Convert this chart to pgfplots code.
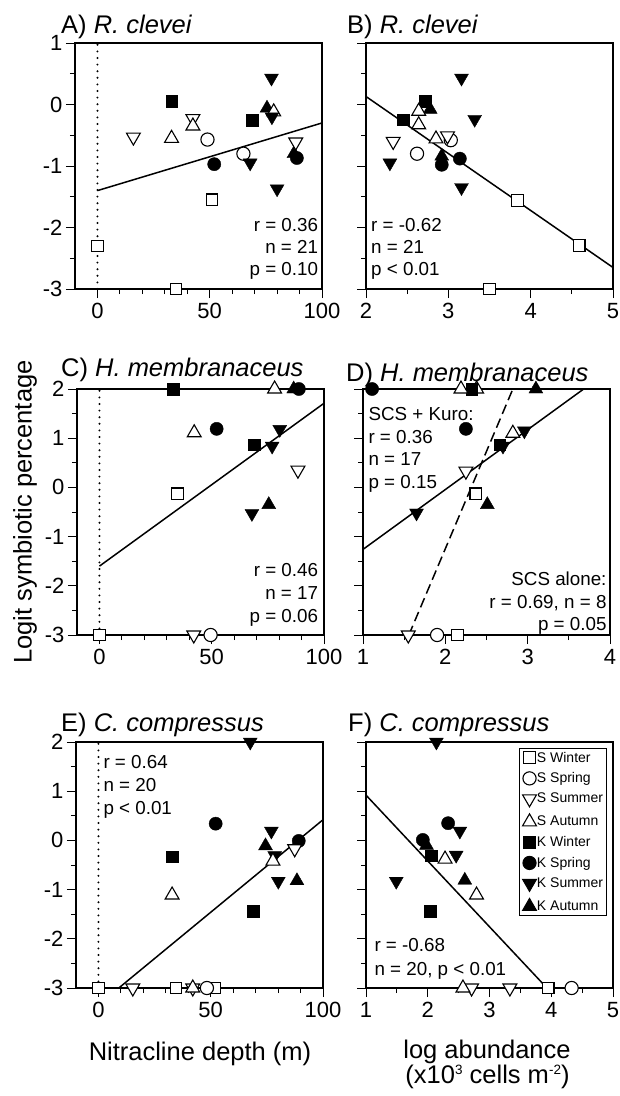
\documentclass[border=0pt]{standalone}
\usepackage{pgfplots}
\pgfplotsset{compat=1.18}
\usepackage{fontspec}
\setmainfont{Liberation Sans}
\pgfplotsset{
  panel/.style={
    scale only axis, width=247pt, height=246pt, anchor=north west,
    clip=false,
    axis line style={line width=1.1pt},
    every tick/.style={black, line width=1pt},
    tick align=outside, tick pos=left,
    major tick length=9pt, minor tick length=5pt,
    tick label style={font=\fontsize{22}{22}\selectfont},
    xticklabel style={yshift=-2pt},
    /pgf/number format/assume math mode=true,
    legend image code/.code={\draw[##1] plot coordinates {(0pt,0pt)};},
  },
  nitx/.style={xmin=-10, xmax=100, xtick={0,50,100}, minor xtick={10,20,30,40,60,70,80,90}},
  ya/.style={ymin=-3, ymax=1, ytick={-3,-2,-1,0,1}, minor ytick={-2.5,-1.5,-0.5,0.5}},
  yc/.style={ymin=-3, ymax=2, ytick={-3,-2,-1,0,1,2}, minor ytick={-2.5,-1.5,-0.5,0.5,1.5}},
  sw/.style={only marks, mark=square*, mark size=5.8pt, mark options={fill=white, draw=black, line width=1.1pt}},
  ssp/.style={only marks, mark=*, mark size=6.6pt, mark options={fill=white, draw=black, line width=1.1pt}},
  ssu/.style={only marks, mark=triangle*, mark size=8pt, mark options={rotate=180, fill=white, draw=black, line width=1.1pt}},
  sau/.style={only marks, mark=triangle*, mark size=8pt, mark options={fill=white, draw=black, line width=1.1pt}},
  kw/.style={only marks, mark=square*, mark size=5.8pt, mark options={fill=black, draw=black}},
  ksp/.style={only marks, mark=*, mark size=6.6pt, mark options={fill=black, draw=black}},
  ksu/.style={only marks, mark=triangle*, mark size=8pt, mark options={rotate=180, fill=black, draw=black}},
  kau/.style={only marks, mark=triangle*, mark size=8pt, mark options={fill=black, draw=black}},
  reg/.style={black, line width=1.5pt, forget plot},
  dots/.style={black, line width=2.2pt, dash pattern=on 0pt off 6.6pt, line cap=round, forget plot},
}
\newcommand{\ann}{\fontsize{18.8}{22}\selectfont}
\newcommand{\ttl}{\fontsize{25.5}{26}\selectfont}
\newcommand{\lab}{\fontsize{25.5}{26}\selectfont}
\newcommand{\sups}[1]{\raisebox{8.5pt}{\fontsize{13.5}{13.5}\selectfont #1}}
\begin{document}
\begin{tikzpicture}
\path[use as bounding box] (0pt,0pt) rectangle (620pt,-1096pt);

% ---------------- A ----------------
\begin{axis}[panel, nitx, ya, at={(75pt,-43pt)}]
\addplot[dots] coordinates {(0,-3) (0,1)};
\addplot[reg] coordinates {(0,-1.4) (100,-0.3)};
\addplot[kw] coordinates {(33,0.05) (69,-0.26)};
\addplot[ksp] coordinates {(52,-0.97) (88.8,-0.87)};
\addplot[kau] coordinates {(75.5,-0.06) (87.5,-0.8)};
\addplot[sw] coordinates {(0,-2.3) (35,-3) (51,-1.55)};
\addplot[ssp] coordinates {(49,-0.57) (65,-0.8)};
\addplot[ssu] coordinates {(16,-0.53) (42.5,-0.23) (88.3,-0.61)};
\addplot[sau] coordinates {(33,-0.55) (42.5,-0.35) (78.5,-0.12)};
\addplot[ksu] coordinates {(68,-0.95) (77.5,0.43) (77.7,-0.2) (80,-1.37)};
\end{axis}

% ---------------- B ----------------
\begin{axis}[panel, ya, at={(366pt,-43pt)}, xmin=2, xmax=5, xtick={2,3,4,5}, minor xtick={2.5,3.5,4.5}, yticklabels={}]
\addplot[reg] coordinates {(2,0.13) (5,-2.65)};
\addplot[kw] coordinates {(2.45,-0.25) (2.72,0.05)};
\addplot[ksp] coordinates {(2.92,-0.98) (3.14,-0.88)};
\addplot[kau] coordinates {(2.78,-0.08) (2.92,-0.84)};
\addplot[sw] coordinates {(3.5,-3) (3.84,-1.56) (4.59,-2.29)};
\addplot[ssp] coordinates {(2.62,-0.8) (3.03,-0.58)};
\addplot[ssu] coordinates {(2.33,-0.6) (2.99,-0.51)};
\addplot[sau] coordinates {(2.64,-0.11) (2.64,-0.33) (2.85,-0.56)};
\addplot[ksu] coordinates {(2.29,-0.95) (3.16,0.43) (3.32,-0.24) (3.16,-1.35)};
\end{axis}

% ---------------- C ----------------
\begin{axis}[panel, nitx, yc, at={(77pt,-389pt)}]
\addplot[dots] coordinates {(0,-3) (0,2)};
\addplot[reg] coordinates {(0,-1.6) (100,1.71)};
\addplot[kw] coordinates {(32.8,2) (69,0.87)};
\addplot[ksp] coordinates {(52.2,1.19) (88.8,2)};
\addplot[kau] coordinates {(75.4,-0.35) (86.5,2)};
\addplot[sw] coordinates {(0,-3) (34.8,-0.13)};
\addplot[ssp] coordinates {(49.5,-3)};
\addplot[ssu] coordinates {(42,-3) (88.4,0.35)};
\addplot[sau] coordinates {(42.2,1.11) (78,2)};
\addplot[ksu] coordinates {(67.9,-0.53) (76.9,0.84) (80.3,1.18)};
\end{axis}

% ---------------- D ----------------
\begin{axis}[panel, yc, at={(363pt,-389pt)}, xmin=1, xmax=4, xtick={1,2,3,4}, minor xtick={1.5,2.5,3.5}, yticklabels={}]
\addplot[reg] coordinates {(1,-1.26) (3.68,2)};
\addplot[reg, dash pattern=on 10pt off 5pt] coordinates {(1.557,-3) (2.82,2)};
\addplot[sau] coordinates {(2.38,2)};
\addplot[kw] coordinates {(2.32,2) (2.66,0.87)};
\addplot[ksp] coordinates {(1.11,2) (2.25,1.19)};
\addplot[kau] coordinates {(2.51,-0.35) (3.1,2)};
\addplot[sw] coordinates {(2.15,-3) (2.37,-0.13)};
\addplot[ssp] coordinates {(1.9,-3)};
\addplot[ssu] coordinates {(1.55,-3) (2.25,0.33)};
\addplot[sau] coordinates {(2.19,2) (2.82,1.1)};
\addplot[ksu] coordinates {(1.65,-0.52) (2.7,0.84) (2.96,1.15)};
\end{axis}

% ---------------- E ----------------
\begin{axis}[panel, nitx, yc, at={(76pt,-742pt)}]
\addplot[dots] coordinates {(0,-3) (0,2)};
\addplot[reg] coordinates {(9.06,-3) (100,0.42)};
\addplot[kw] coordinates {(32.8,-0.33) (68.8,-1.44)};
\addplot[ksp] coordinates {(52.2,0.34) (89.2,-0.01)};
\addplot[kau] coordinates {(74.4,-0.11) (88.4,-0.82)};
\addplot[ksu] coordinates {(67.6,2) (77,0.19) (78.5,-0.31) (80.1,-0.83)};
\addplot[sw] coordinates {(0,-3) (34.6,-3) (51.7,-3)};
\addplot[ssp] coordinates {(48.3,-3)};
\addplot[ssu] coordinates {(15.3,-3) (42,-3) (87.4,-0.17)};
\addplot[sau] coordinates {(32.8,-1.11) (42,-3) (77.7,-0.42)};
\end{axis}

% ---------------- F ----------------
\begin{axis}[panel, yc, at={(366pt,-742pt)}, xmin=1, xmax=5, xtick={1,2,3,4,5}, minor xtick={1.5,2.5,3.5,4.5}, yticklabels={},
  legend style={at={(0.976,0.976)}, anchor=north east, draw=black, line width=1pt,
    font=\fontsize{14}{14}\selectfont, inner xsep=3pt, inner ysep=2.5pt, row sep=7pt,
    nodes={inner xsep=0.5pt, inner ysep=1pt}},
  legend cell align=left]
\addlegendimage{sw}\addlegendentry{S Winter}
\addlegendimage{ssp}\addlegendentry{S Spring}
\addlegendimage{ssu}\addlegendentry{S Summer}
\addlegendimage{sau}\addlegendentry{S Autumn}
\addlegendimage{kw}\addlegendentry{K Winter}
\addlegendimage{ksp}\addlegendentry{K Spring}
\addlegendimage{ksu}\addlegendentry{K Summer}
\addlegendimage{kau}\addlegendentry{K Autumn}
\addplot[reg] coordinates {(1,0.92) (3.93,-3)};
\addplot[kw, forget plot] coordinates {(2.06,-0.31) (2.04,-1.44)};
\addplot[ksp, forget plot] coordinates {(1.92,0.01) (2.33,0.35)};
\addplot[kau, forget plot] coordinates {(1.98,-0.1) (2.6,-0.81)};
\addplot[sw, forget plot] coordinates {(3.95,-3)};
\addplot[ssp, forget plot] coordinates {(4.33,-3)};
\addplot[ssu, forget plot] coordinates {(2.71,-3) (3.33,-3)};
\addplot[sau, forget plot] coordinates {(2.28,-0.38) (2.79,-1.11) (2.57,-3)};
\addplot[ksu, forget plot] coordinates {(2.14,2) (2.52,0.19) (2.46,-0.3) (1.49,-0.83)};
\end{axis}

% ---------------- titles ----------------
\node[anchor=base west, inner sep=0pt, font=\ttl] at (61pt,-33.3pt) {A) \textit{R. clevei}};
\node[anchor=base west, inner sep=0pt, font=\ttl] at (347pt,-33.3pt) {B) \textit{R. clevei}};
\node[anchor=base west, inner sep=0pt, font=\ttl] at (61pt,-376.7pt) {C) \textit{H. membranaceus}};
\node[anchor=base west, inner sep=0pt, font=\ttl] at (346pt,-381pt) {D) \textit{H. membranaceus}};
\node[anchor=base west, inner sep=0pt, font=\ttl] at (61pt,-731.7pt) {E) \textit{C. compressus}};
\node[anchor=base west, inner sep=0pt, font=\ttl] at (348pt,-731.7pt) {F) \textit{C. compressus}};

% ---------------- annotations ----------------
\node[anchor=base east, inner sep=0pt, font=\ann] at (318.3pt,-231.7pt) {r = 0.36};
\node[anchor=base east, inner sep=0pt, font=\ann] at (318.3pt,-253.7pt) {n = 21};
\node[anchor=base east, inner sep=0pt, font=\ann] at (318.3pt,-275.7pt) {p = 0.10};

\node[anchor=base west, inner sep=0pt, font=\ann] at (371pt,-231.7pt) {r = -0.62};
\node[anchor=base west, inner sep=0pt, font=\ann] at (371pt,-253.7pt) {n = 21};
\node[anchor=base west, inner sep=0pt, font=\ann] at (371pt,-275.7pt) {p < 0.01};

\node[anchor=base east, inner sep=0pt, font=\ann] at (318.3pt,-576.7pt) {r = 0.46};
\node[anchor=base east, inner sep=0pt, font=\ann] at (318.3pt,-599.3pt) {n = 17};
\node[anchor=base east, inner sep=0pt, font=\ann] at (318.3pt,-622.3pt) {p = 0.06};

\node[anchor=base west, inner sep=0pt, font=\ann] at (368.3pt,-420pt) {SCS + Kuro:};
\node[anchor=base west, inner sep=0pt, font=\ann] at (368.3pt,-443.3pt) {r = 0.36};
\node[anchor=base west, inner sep=0pt, font=\ann] at (368.3pt,-465.5pt) {n = 17};
\node[anchor=base west, inner sep=0pt, font=\ann] at (368.3pt,-488.3pt) {p = 0.15};

\node[anchor=base east, inner sep=0pt, font=\ann] at (606.7pt,-585pt) {SCS alone:};
\node[anchor=base east, inner sep=0pt, font=\ann] at (606.7pt,-608pt) {r = 0.69, n = 8};
\node[anchor=base east, inner sep=0pt, font=\ann] at (606.7pt,-630pt) {p = 0.05};

\node[anchor=base west, inner sep=0pt, font=\ann] at (103.3pt,-768.3pt) {r = 0.64};
\node[anchor=base west, inner sep=0pt, font=\ann] at (103.3pt,-791.3pt) {n = 20};
\node[anchor=base west, inner sep=0pt, font=\ann] at (103.3pt,-814.3pt) {p < 0.01};

\node[anchor=base west, inner sep=0pt, font=\ann] at (374.3pt,-951.7pt) {r = -0.68};
\node[anchor=base west, inner sep=0pt, font=\ann] at (374.3pt,-975pt) {n = 20, p < 0.01};

% ---------------- axis labels ----------------
\node[anchor=base, inner sep=0pt, font=\lab] at (200pt,-1060pt) {Nitracline depth (m)};
\node[anchor=base, inner sep=0pt, font=\lab] at (487pt,-1058pt) {log abundance};
\node[anchor=base, inner sep=0pt, font=\lab] at (487.5pt,-1083pt) {(x10\sups{3} cells m\sups{-2})};
\node[anchor=base, rotate=90, inner sep=0pt, font=\lab] at (31.7pt,-512pt) {Logit symbiotic percentage};
\end{tikzpicture}
\end{document}
